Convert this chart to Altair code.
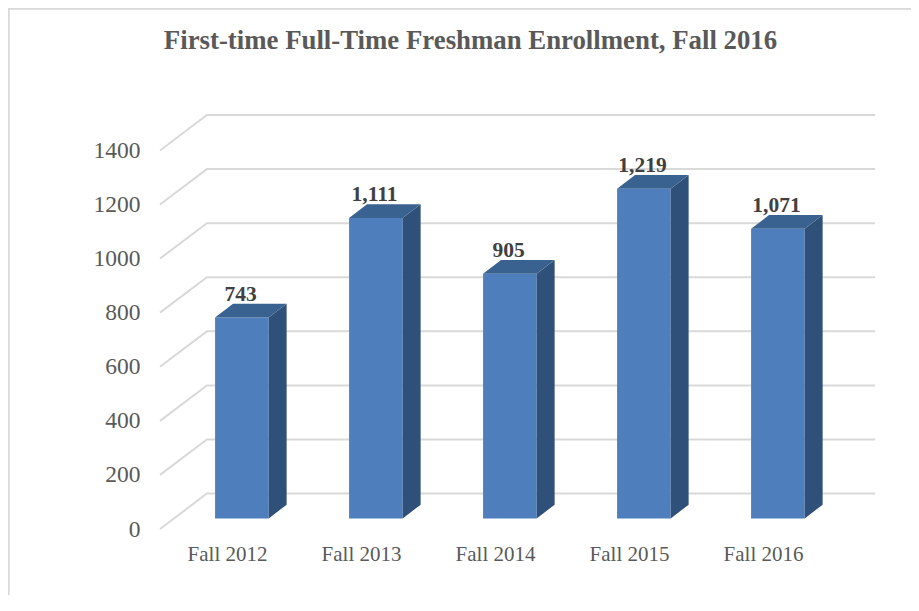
import json
import altair as alt
import pandas as pd

categories = ["Fall 2012", "Fall 2013", "Fall 2014", "Fall 2015", "Fall 2016"]
values = [743, 1111, 905, 1219, 1071]
y_ticks = [0, 200, 400, 600, 800, 1000, 1200, 1400]
labels = ["743", "1,111", "905", "1,219", "1,071"]
title = "First-time Full-Time Freshman Enrollment, Fall 2016"

# Pseudo-3D geometry in scale units: x = category slots, y = enrollment units
X_MAX = 715 / 134
Y_MAX = 1531
WALL_DX, WALL_DY = 0.35, 131
BAR_SHIFT, BAR_HALF = 0.611, 0.2
BAR_BASE, BAR_DX, BAR_DY = 39, 0.134, 51

grid_rows, front_rows, top_rows, side_rows, label_rows = [], [], [], [], []
for t in y_ticks:
    grid_rows += [
        {"t": t, "o": 0, "x": 0, "y": t},
        {"t": t, "o": 1, "x": WALL_DX, "y": t + WALL_DY},
        {"t": t, "o": 2, "x": X_MAX, "y": t + WALL_DY},
    ]
for i, (c, v, lab) in enumerate(zip(categories, values, labels)):
    l, r = i + BAR_SHIFT - BAR_HALF, i + BAR_SHIFT + BAR_HALF
    vt = v + BAR_BASE
    front_rows.append({"c": c, "x": l, "x2": r, "y": vt, "y2": BAR_BASE})
    side_rows += [
        {"c": c, "x": r, "y": vt, "y2": BAR_BASE},
        {"c": c, "x": r + BAR_DX, "y": vt + BAR_DY, "y2": BAR_BASE + BAR_DY},
    ]
    top_rows += [
        {"c": c, "x": l, "y": vt, "y2": vt},
        {"c": c, "x": l + BAR_DX, "y": vt + BAR_DY, "y2": vt},
        {"c": c, "x": r, "y": vt + BAR_DY, "y2": vt},
        {"c": c, "x": r + BAR_DX, "y": vt + BAR_DY, "y2": vt + BAR_DY},
    ]
    label_rows.append({"x": i + BAR_SHIFT - 0.01, "y": vt, "label": lab})

x_scale = alt.Scale(domain=[0, X_MAX], nice=False, zero=False)
y_scale = alt.Scale(domain=[0, Y_MAX], nice=False, zero=False)
label_expr = json.dumps(categories) + "[floor(datum.value)]"

x_enc = alt.X(
    "x:Q", scale=x_scale, title=None,
    axis=alt.Axis(
        values=[i + 0.5 for i in range(len(categories))], labelExpr=label_expr,
        grid=False, domain=False, ticks=False, labelPadding=14,
        labelFont="Liberation Serif", labelFontSize=21, labelColor="#595959",
    ),
)
y_enc = alt.Y(
    "y:Q", scale=y_scale, title=None,
    axis=alt.Axis(
        values=y_ticks, grid=False, domain=False, ticks=False, labelPadding=20,
        format="d", labelFont="Liberation Serif", labelFontSize=23.5, labelColor="#595959",
    ),
)

grid = alt.Chart(pd.DataFrame(grid_rows)).mark_line(
    color="#d9d9d9", strokeWidth=2
).encode(x=x_enc, y=y_enc, detail="t:N", order="o:Q")

front = alt.Chart(pd.DataFrame(front_rows)).mark_rect(color="#4e7fbc").encode(
    x=x_enc, x2="x2:Q", y=y_enc, y2="y2:Q"
)
side = alt.Chart(pd.DataFrame(side_rows)).mark_area(color="#2f5179", opacity=1).encode(
    x=x_enc, y=y_enc, y2="y2:Q", detail="c:N"
)
top = alt.Chart(pd.DataFrame(top_rows)).mark_area(color="#3a6291", opacity=1).encode(
    x=x_enc, y=y_enc, y2="y2:Q", detail="c:N"
)
text = alt.Chart(pd.DataFrame(label_rows)).mark_text(
    font="Liberation Serif", fontSize=21.5, fontWeight="bold", color="#404040",
    baseline="alphabetic", align="center", dy=-16.7,
).encode(x=x_enc, y=y_enc, text="label:N")

frame_v = alt.Chart(pd.DataFrame({"a": [0]})).mark_rule(
    color="#d9d9d9", strokeWidth=2
).encode(x=alt.value(-151.3), y=alt.value(-107), y2=alt.value(496))
frame_h = alt.Chart(pd.DataFrame({"a": [0]})).mark_rule(
    color="#d9d9d9", strokeWidth=2
).encode(y=alt.value(-106.3), x=alt.value(-152), x2=alt.value(759))

chart = alt.layer(grid, frame_v, frame_h, front, side, top, text).properties(
    width=715, height=414,
    padding={"left": 152, "top": 107, "right": 36, "bottom": 66},
    autosize=alt.AutoSizeParams(type="none"),
    title=alt.TitleParams(
        title, font="Liberation Serif", fontSize=26.8, fontWeight="bold",
        color="#595959", anchor="middle", dx=-47, offset=-48,
    ),
).configure_view(stroke=None)

chart.save("out.html", embed_options={"renderer": "svg", "actions": False})
